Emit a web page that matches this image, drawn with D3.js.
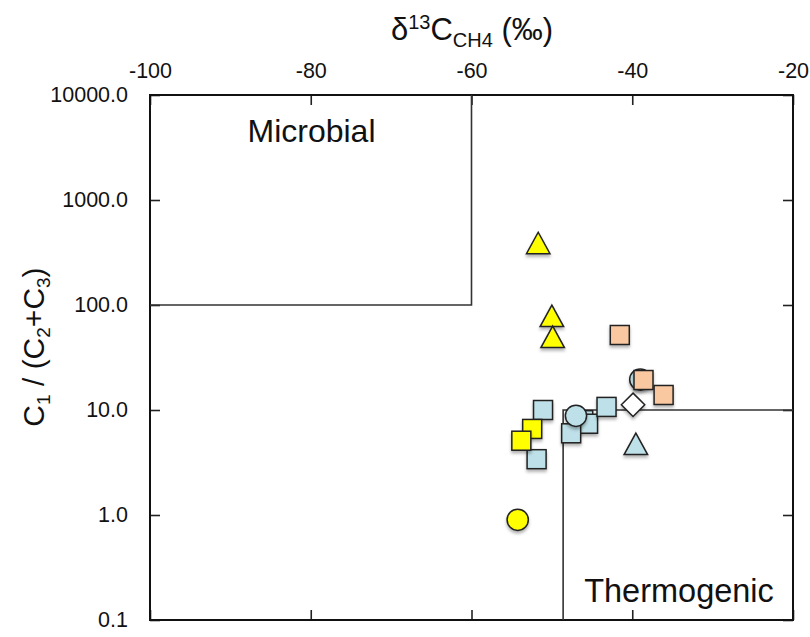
<!DOCTYPE html>
<html><head><meta charset="utf-8">
<script src="https://cdn.jsdelivr.net/npm/d3@7/dist/d3.min.js"></script>
<style>
html,body{margin:0;padding:0;background:#fff;}
svg{display:block;font-family:"Liberation Sans",Arial,sans-serif;}
</style></head>
<body><svg id="chart" width="810" height="637"></svg>
<script>
// ---- data ----
const xTicks = [-100, -80, -60, -40, -20];
const yTicks = [0.1, 1, 10, 100, 1000, 10000];
// [d13C, C1/(C2+C3)]
const blueSquares   = [[-51.1, 10.0], [-51.9, 3.4], [-46.1, 8.0], [-45.5, 7.4], [-47.6, 6.0], [-43.2, 10.7]];
const yellowSquares = [[-52.45, 6.6], [-53.8, 5.1]];
const orangeSquares = [[-41.55, 51.8], [-38.6, 19.3], [-36.1, 13.9]];
const blueCircles   = [[-39.0, 19.5], [-47.0, 8.8]];
const yellowCircles = [[-54.25, 0.9]];
const yellowTriangles = [[-51.7, 360], [-50.0, 73], [-49.9, 46]];
const blueTriangles = [[-39.55, 4.4]];
const whiteDiamonds = [[-39.9, 11.2]];
// field boxes
const microbialBox = {x0: -100, x1: -60, y0: 100, y1: 10000};
const thermoBox = {x0: -48.6, x1: -20, y0: 0.1, y1: 10};

const colors = {yellow: "#FFFF00", blue: "#BEE0E8", orange: "#FAC8A0", white: "#FFFFFF"};

const svg = d3.select("#chart");
const L = 150, R = 793, T = 95, B = 620;
const x = d3.scaleLinear().domain([-100, -20]).range([L, R]);
const y = d3.scaleLog().domain([0.1, 10000]).range([B, T]);

const defs = svg.append("defs");
const f = defs.append("filter").attr("id", "sh").attr("x", "-50%").attr("y", "-50%").attr("width", "200%").attr("height", "200%");
f.append("feDropShadow").attr("dx", 0).attr("dy", 2.5).attr("stdDeviation", 1.8).attr("flood-color", "#000").attr("flood-opacity", 0.3);

const g = svg.append("g");

// axes (ticks inward on all four sides)
const fmtY = d => d3.format(".1f")(d);
g.append("g").attr("transform", `translate(0,${T})`)
  .call(d3.axisTop(x).tickValues(xTicks).tickSize(-10).tickPadding(17).tickFormat(d => String(d)))
  .call(a => a.select(".domain").remove());
g.append("g").attr("transform", `translate(0,${B})`)
  .call(d3.axisBottom(x).tickValues(xTicks).tickSize(-10).tickFormat(""))
  .call(a => a.select(".domain").remove());
g.append("g").attr("transform", `translate(${L},0)`)
  .call(d3.axisLeft(y).tickValues(yTicks).tickSize(-10).tickPadding(22).tickFormat(fmtY))
  .call(a => a.select(".domain").remove());
g.append("g").attr("transform", `translate(${R},0)`)
  .call(d3.axisRight(y).tickValues(yTicks).tickSize(-10).tickFormat(""))
  .call(a => a.select(".domain").remove());
g.selectAll(".tick line").attr("stroke", "#222").attr("stroke-width", 1.6);
g.selectAll(".tick text").attr("fill", "#111").attr("font-size", null).attr("font-family", null)
  .style("font-size", "21.5px").style("font-family", "'Liberation Sans',Arial,sans-serif");
g.selectAll("g").attr("font-size", null).attr("font-family", null);

// frame
g.append("rect").attr("x", L).attr("y", T).attr("width", R - L).attr("height", B - T)
  .attr("fill", "none").attr("stroke", "#111").attr("stroke-width", 2);

// field boxes
const boxLine = "#333";
g.append("path").attr("d", `M${x(microbialBox.x0)},${y(microbialBox.y0)}H${x(microbialBox.x1)}V${y(microbialBox.y1)}`)
  .attr("fill", "none").attr("stroke", boxLine).attr("stroke-width", 1.6);
g.append("path").attr("d", `M${x(thermoBox.x0)},${y(thermoBox.y0)}V${y(thermoBox.y1)}H${x(thermoBox.x1)}`)
  .attr("fill", "none").attr("stroke", boxLine).attr("stroke-width", 1.6);

g.append("text").attr("x", 311.5).attr("y", 142)
  .attr("text-anchor", "middle").style("font-size", "32px").attr("fill", "#111").text("Microbial");
g.append("text").attr("x", 679).attr("y", 602)
  .attr("text-anchor", "middle").style("font-size", "32.5px").attr("fill", "#111").text("Thermogenic");

// axis titles
const tt = svg.append("text").attr("x", 472).attr("y", 40).attr("text-anchor", "middle")
  .style("font-family", "'Liberation Sans Narrow','Arial Narrow','Liberation Sans',sans-serif").style("font-size", "31px").attr("fill", "#111");
tt.append("tspan").text("δ");
tt.append("tspan").attr("dy", -11).style("font-size", "20px").text("13");
tt.append("tspan").attr("dy", 11).text("C");
tt.append("tspan").attr("dy", 7).style("font-size", "20px").text("CH4");
tt.append("tspan").attr("dy", -7).text(" (‰)");

const yt = svg.append("text").attr("transform", "translate(44,347) rotate(-90)").attr("text-anchor", "middle")
  .style("font-size", "30px").attr("fill", "#111");
yt.append("tspan").text("C");
yt.append("tspan").attr("dy", 6).style("font-size", "19px").text("1");
yt.append("tspan").attr("dy", -6).text(" / (C");
yt.append("tspan").attr("dy", 6).style("font-size", "19px").text("2");
yt.append("tspan").attr("dy", -6).text("+C");
yt.append("tspan").attr("dy", 6).style("font-size", "19px").text("3");
yt.append("tspan").attr("dy", -6).text(")");

// markers
const marks = svg.append("g").attr("stroke", "#222").attr("stroke-width", 1.5);
const SQ = 19, CR = 10.6, TW = 23.5, TH = 21.5, DH = 11.7;
function squares(data, c) {
  marks.selectAll(null).data(data).join("rect")
    .attr("x", d => x(d[0]) - SQ / 2).attr("y", d => y(d[1]) - SQ / 2)
    .attr("width", SQ).attr("height", SQ).attr("fill", c).attr("filter", "url(#sh)");
}
function circles(data, c) {
  marks.selectAll(null).data(data).join("circle")
    .attr("cx", d => x(d[0])).attr("cy", d => y(d[1])).attr("r", CR).attr("fill", c).attr("filter", "url(#sh)");
}
function triangles(data, c) {
  marks.selectAll(null).data(data).join("path")
    .attr("d", d => { const cx = x(d[0]), cy = y(d[1]);
      return `M${cx},${cy - 2 * TH / 3}L${cx + TW / 2},${cy + TH / 3}L${cx - TW / 2},${cy + TH / 3}Z`; })
    .attr("fill", c).attr("filter", "url(#sh)");
}
function diamonds(data, c) {
  marks.selectAll(null).data(data).join("path")
    .attr("d", d => { const cx = x(d[0]), cy = y(d[1]);
      return `M${cx},${cy - DH}L${cx + DH},${cy}L${cx},${cy + DH}L${cx - DH},${cy}Z`; })
    .attr("fill", c).attr("filter", "url(#sh)");
}
circles(blueCircles.slice(0, 1), colors.blue);
squares(orangeSquares, colors.orange);
squares(blueSquares, colors.blue);
circles(blueCircles.slice(1), colors.blue);
squares(yellowSquares, colors.yellow);
circles(yellowCircles, colors.yellow);
triangles(yellowTriangles, colors.yellow);
triangles(blueTriangles, colors.blue);
diamonds(whiteDiamonds, colors.white);
</script></body></html>
